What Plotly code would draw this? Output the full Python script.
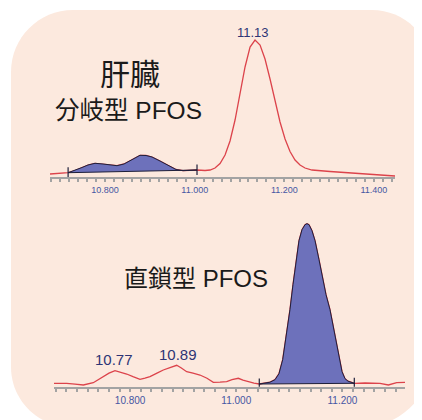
import numpy as np
import plotly.graph_objects as go

# The page body has an 8px margin, so the figure is 8px smaller and all
# screen-pixel geometry is shifted by 8px.
OFF = 8
W, H = 422 - OFF, 420 - OFF

# ---------------- data ----------------
# Top chromatogram (liver, branched PFOS window)
top_rt = [10.677, 10.6999, 10.7174, 10.7328, 10.7484, 10.7618, 10.7775, 10.7953, 10.8109,
          10.8266, 10.8422, 10.8600, 10.8779, 10.8913, 10.9047, 10.9225, 10.9404, 10.9583,
          10.9739, 10.9895, 11.0051, 11.0230, 11.0342, 11.0453, 11.0565, 11.0677, 11.0788,
          11.0900, 11.1011, 11.1123, 11.1235, 11.1346, 11.1458, 11.1569, 11.1681, 11.1792,
          11.1904, 11.2016, 11.2127, 11.2239, 11.2350, 11.2462, 11.2618, 11.3020, 11.3467,
          11.3913, 11.4471]
top_int = [3.0, 3.5, 4.3, 6.5, 9.5, 12.0, 13.7, 13.0, 11.8,
           11.3, 13.0, 17.0, 21.7, 21.5, 20.0, 16.0, 11.5, 7.5,
           6.3, 6.6, 7.0, 6.5, 7.0, 9.0, 13.5, 22.0, 36.0,
           57.0, 83.0, 110.0, 130.0, 137.0, 132.0, 118.0, 98.0, 76.0,
           55.0, 38.0, 25.5, 17.0, 12.0, 9.0, 7.0, 5.5, 4.0,
           2.5, 1.0]
top_fill = (10.7174, 11.0051)
top_peak_rt = [11.13]
top_tick_labels = [10.8, 11.0, 11.2, 11.4]
top_long_ticks = [10.7, 10.9, 11.1, 11.3]

# Bottom chromatogram (linear PFOS window)
bot_rt = [10.6566, 10.6805, 10.6961, 10.7118, 10.7306, 10.7494, 10.7602, 10.7715, 10.7809,
          10.7935, 10.8054, 10.8186, 10.8280, 10.8374, 10.8506, 10.8625, 10.8751, 10.8877,
          10.8958, 10.9066, 10.9184, 10.9316, 10.9448, 10.9567, 10.9693, 10.9819, 10.9919,
          11.0038, 11.0126, 11.0226, 11.0333, 11.0433, 11.0541, 11.0635, 11.0729, 11.0804,
          11.0874, 11.0936, 11.1011, 11.1068, 11.1125, 11.1181, 11.1238, 11.1294, 11.1332,
          11.1370, 11.1426, 11.1483, 11.1558, 11.1615, 11.1690, 11.1765, 11.1841, 11.1879,
          11.1935, 11.1992, 11.2048, 11.2105, 11.2161, 11.2223, 11.2425, 11.2707, 11.2864,
          11.3022, 11.3178]
bot_int = [3.4, 3.4, 2.5, 1.7, 4.0, 10.0, 13.5, 16.0, 14.5,
           12.7, 10.0, 7.4, 8.5, 10.0, 13.5, 16.7, 19.0, 21.4,
           19.0, 15.0, 13.5, 11.7, 8.5, 4.4, 4.5, 5.0, 7.0,
           8.4, 6.5, 5.0, 3.5, 2.7, 3.5, 4.5, 7.0, 13.0,
           27.0, 48.0, 77.0, 102.0, 127.0, 146.0, 157.0, 162.0, 163.0,
           162.0, 156.0, 146.0, 127.0, 111.0, 92.0, 77.0, 56.0, 43.0,
           27.0, 15.0, 8.0, 5.5, 4.5, 3.4, 3.7, 3.4, 1.7,
           4.0, 4.4]
bot_fill = (11.0433, 11.2223)
bot_peak_rt = [10.77, 10.89]
bot_tick_labels = [10.8, 11.0, 11.2]
bot_long_ticks = [10.7, 10.9, 11.1, 11.3]

# ---------------- style ----------------
RED = "#DC434B"
BLUE = "#6D71BB"
DARK = "#1E1F3A"
AXIS = "#A3A3A3"
TICKLBL = "#4656A3"
PEAKLBL = "#2D3475"
PEACH = "#FCE9DE"
LATIN = "Liberation Sans, Arial, Noto Sans CJK JP, sans-serif"


def fx(sx):
    return (sx - OFF) / W


def fy(sy):
    return 1 - (sy - OFF) / H


fig = go.Figure()


def add_chrom(rt, inten, fill, xa, ya, width):
    rt = np.array(rt)
    inten = np.array(inten)
    fig.add_trace(go.Scatter(x=rt, y=inten, mode="lines", xaxis=xa, yaxis=ya,
                             line=dict(color=RED, width=width), hoverinfo="skip",
                             showlegend=False))
    m = (rt >= fill[0] - 1e-9) & (rt <= fill[1] + 1e-9)
    sx, sy = rt[m], inten[m]
    px = list(sx) + [sx[-1], sx[0]]
    pyv = list(sy) + [sy[-1], sy[0]]
    fig.add_trace(go.Scatter(x=px, y=pyv, mode="lines", fill="toself", fillcolor=BLUE,
                             xaxis=xa, yaxis=ya, line=dict(color=DARK, width=1),
                             hoverinfo="skip", showlegend=False))
    for xv, yv in ((sx[0], sy[0]), (sx[-1], sy[-1])):
        fig.add_trace(go.Scatter(x=[xv, xv], y=[yv - 5, yv + 5.5], mode="lines",
                                 xaxis=xa, yaxis=ya, line=dict(color=DARK, width=1.2),
                                 hoverinfo="skip", showlegend=False))


add_chrom(top_rt, top_int, top_fill, "x", "y", 1.3)
add_chrom(bot_rt, bot_int, bot_fill, "x2", "y2", 1.3)

# peak labels
for rt in top_peak_rt:
    fig.add_annotation(x=rt, y=float(np.interp(rt, top_rt, top_int)), xref="x", yref="y",
                       text=f"{rt:.2f}", showarrow=False, yanchor="bottom", yshift=1,
                       font=dict(family=LATIN, size=13, color=PEAKLBL))
for rt in bot_peak_rt:
    fig.add_annotation(x=rt, y=float(np.interp(rt, bot_rt, bot_int)), xref="x2", yref="y2",
                       text=f"{rt:.2f}", showarrow=False, yanchor="bottom", yshift=1,
                       font=dict(family=LATIN, size=15, color=PEAKLBL))

# Japanese labels
for txt, cx, cy, sz in (("肝臓", 130, 74, 30), ("分岐型 PFOS", 128, 110, 24.5),
                        ("直鎖型 PFOS", 196, 278, 24)):
    fig.add_annotation(x=fx(cx), y=fy(cy), xref="paper", yref="paper", text=txt,
                       xanchor="center", yanchor="middle", showarrow=False,
                       font=dict(family=LATIN, size=sz, color="#1A1A1A"))

# axes
top_range = [10.677, 11.447]
bot_range = [10.6566, 11.3178]
top_dom = [fx(50), fx(395)]
bot_dom = [fx(54), fx(405)]


def xaxis_main(rng, dom, anchor, labels, size):
    return dict(domain=dom, range=rng, anchor=anchor, showgrid=False, zeroline=False,
                showline=True, linecolor=AXIS, linewidth=2,
                tickmode="array", tickvals=labels, ticktext=[f"{v:.3f}" for v in labels],
                ticks="outside", ticklen=3, tickwidth=1.5, tickcolor=AXIS,
                tickfont=dict(family=LATIN, size=size, color=TICKLBL),
                minor=dict(dtick=0.02, tick0=10.7, ticks="outside", ticklen=3,
                           tickwidth=1.5, tickcolor=AXIS, showgrid=False),
                fixedrange=True)


def xaxis_long(rng, dom, anchor, over, vals):
    return dict(domain=dom, range=rng, anchor=anchor, overlaying=over, showgrid=False,
                zeroline=False, showline=False, tickmode="array", tickvals=vals,
                ticks="outside", ticklen=7, tickwidth=1.5, tickcolor=AXIS,
                showticklabels=False, fixedrange=True)


def yaxis(dom, rng, anchor):
    return dict(domain=dom, range=rng, anchor=anchor, visible=False, fixedrange=True)


fig.update_layout(
    width=W, height=H, margin=dict(l=0, r=0, t=0, b=0),
    paper_bgcolor="white", plot_bgcolor="rgba(0,0,0,0)",
    xaxis=xaxis_main(top_range, top_dom, "y", top_tick_labels, 9),
    yaxis=yaxis([fy(177), fy(27)], [0, 150], "x"),
    xaxis2=xaxis_main(bot_range, bot_dom, "y2", bot_tick_labels, 10),
    yaxis2=yaxis([fy(386.7), fy(211.7)], [0, 175], "x2"),
    xaxis3=xaxis_long(top_range, top_dom, "y", "x", top_long_ticks),
    xaxis4=xaxis_long(bot_range, bot_dom, "y2", "x2", bot_long_ticks),
)

# background rounded panel (screen-pixel geometry -> paper coords)
k = 0.5523


def P(sx, sy):
    return f"{fx(sx):.5f},{fy(sy):.5f}"


L, T, R, B = 11, 10, 432, 427
r1, r2, r3, r4 = 62, 60, 70, 60
path = (
    f"M {P(L, T + r1)} C {P(L, T + r1 - r1 * k)} {P(L + r1 - r1 * k, T)} {P(L + r1, T)} "
    f"L {P(R - r2, T)} C {P(R - r2 + r2 * k, T)} {P(R, T + r2 - r2 * k)} {P(R, T + r2)} "
    f"L {P(R, B - r3)} C {P(R, B - r3 + r3 * k)} {P(R - r3 + r3 * k, B)} {P(R - r3, B)} "
    f"L {P(L + r4, B)} C {P(L + r4 - r4 * k, B)} {P(L, B - r4 + r4 * k)} {P(L, B - r4)} Z"
)
fig.add_shape(type="path", path=path, xref="paper", yref="paper", fillcolor=PEACH,
              line=dict(width=0), layer="below")

fig.write_html("out.html")
